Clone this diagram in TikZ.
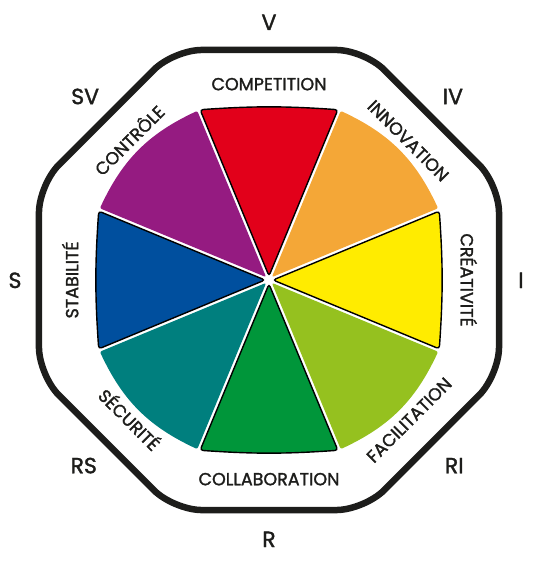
\documentclass[tikz,border=0pt]{standalone}
\usepackage{fontspec}
\setmainfont{Poppins}[FakeBold=1.6]
\definecolor{compred}{HTML}{E2001A}
\definecolor{innovorange}{HTML}{F4A737}
\definecolor{creayellow}{HTML}{FFEC00}
\definecolor{facigreen}{HTML}{95C11F}
\definecolor{collabgreen}{HTML}{00963A}
\definecolor{secteal}{HTML}{007F7E}
\definecolor{stabblue}{HTML}{004F9E}
\definecolor{ctrlpurple}{HTML}{951B81}
\definecolor{ink}{HTML}{1D1D1B}

\begin{document}
\begin{tikzpicture}[x=1pt, y=1pt,
    value/.style={font=\fontsize{17.5}{19}\selectfont, text=ink, inner sep=0pt, text height=12.5pt, text depth=0pt},
    level/.style={font=\fontsize{22}{24}\selectfont, text=ink, inner sep=0pt, text height=16pt, text depth=0pt},
    flat/.style={draw=black, line width=1.4pt, rounded corners=3pt},
    bulge/.style={rounded corners=2pt}]
    \useasboundingbox (-269,-283) rectangle (280,280);
    % frame
    \draw[ink, line width=6.5pt, rounded corners=28pt] (230,0) -- (22.5:249) -- (67.5:249) -- (112.5:249) -- (157.5:249)
        -- (202.5:249) -- (247.5:249) -- (292.5:249) -- (337.5:249) -- cycle;
    % sectors
    \path[fill=compred, flat, shift={(90:4)}] (0,0) -- (67.5:180) to[bend right=4] (112.5:180) -- cycle;
    \path[fill=innovorange, bulge, shift={(45:4)}] (0,0) -- (22.5:180) to[bend right=20] (67.5:180) -- cycle;
    \path[fill=creayellow, flat, shift={(0:4)}] (0,0) -- (-22.5:180) to[bend right=4] (22.5:180) -- cycle;
    \path[fill=facigreen, bulge, shift={(-45:4)}] (0,0) -- (-67.5:180) to[bend right=20] (-22.5:180) -- cycle;
    \path[fill=collabgreen, flat, shift={(-90:4)}] (0,0) -- (-112.5:180) to[bend right=4] (-67.5:180) -- cycle;
    \path[fill=secteal, bulge, shift={(-135:4)}] (0,0) -- (-157.5:180) to[bend right=20] (-112.5:180) -- cycle;
    \path[fill=stabblue, flat, shift={(180:4)}] (0,0) -- (157.5:180) to[bend right=4] (202.5:180) -- cycle;
    \path[fill=ctrlpurple, bulge, shift={(135:4)}] (0,0) -- (112.5:180) to[bend right=20] (157.5:180) -- cycle;
    % values
    \node[value] (competition) at (90:196) {COMPETITION};
    \node[value, rotate=-45] (innovation) at (45:197) {INNOVATION};
    \node[value, rotate=-90] (creativite) at (0:198) {CRÉATIVITÉ};
    \node[value, rotate=45] (facilitation) at (-45:198) {FACILITATION};
    \node[value] (collaboration) at (-90:199) {COLLABORATION};
    \node[value, rotate=-45] (securite) at (-135:198) {SÉCURITÉ};
    \node[value, rotate=90] (stabilite) at (180:197) {STABILITÉ};
    \node[value, rotate=45] (controle) at (135:197) {CONTRÔLE};
    % levels
    \node[level] (v) at (90:258) {V};
    \node[level] (iv) at (45:260) {IV};
    \node[level] (i) at (0:252) {I};
    \node[level] (ri) at (-45:262) {RI};
    \node[level] (r) at (-90:259) {R};
    \node[level] (rs) at (-135:262) {RS};
    \node[level] (s) at (180:254) {S};
    \node[level] (sv) at (135:260) {SV};
\end{tikzpicture}
\end{document}
